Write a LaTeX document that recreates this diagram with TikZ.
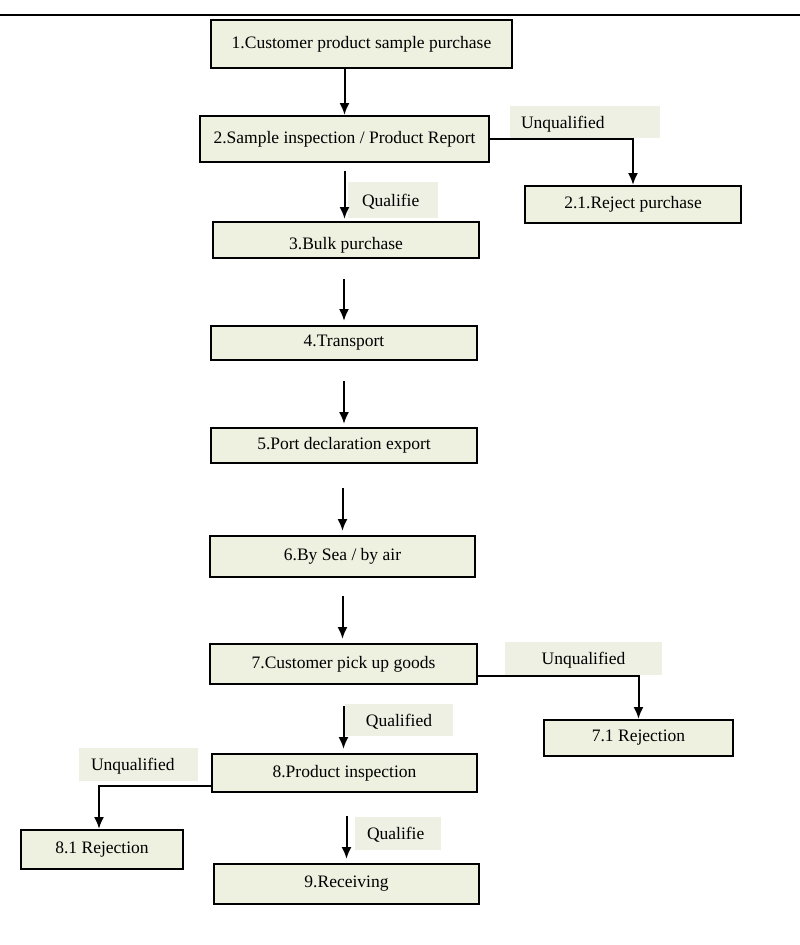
\documentclass[tikz,border=0pt]{standalone}
\usepackage{fontspec}
\setmainfont{Liberation Serif}
\usetikzlibrary{arrows.meta}
\definecolor{boxfill}{HTML}{EEF0E0}
\definecolor{lblfill}{HTML}{EFF0E4}
\tikzset{
  box/.style={draw=black, line width=2pt, fill=boxfill, inner sep=0pt, font=\fontsize{17.5}{20}\selectfont},
  lbl/.style={fill=lblfill, inner sep=0pt, text height=14pt, text depth=2pt, font=\fontsize{17.5}{20}\selectfont},
  arr/.style={line width=2pt, -{Latex[length=12pt,width=10pt]}},
}
\begin{document}
\begin{tikzpicture}[x=1pt,y=-1pt]
\useasboundingbox (0,0) rectangle (800,945);
\fill[white] (0,0) rectangle (800,945);
\draw[line width=1.5pt] (0,15) -- (800,15);

\node[box, minimum width=301pt, minimum height=48pt] (b1) at (361.5,44) {1.Customer product sample purchase};
\node[box, minimum width=289pt, minimum height=46pt] (b2) at (344.5,139) {2.Sample inspection / Product Report};
\node[box, minimum width=216pt, minimum height=37pt] (b21) at (633,204.5) {2.1.Reject purchase};
\node[box, minimum width=266pt, minimum height=36pt, text height=20pt, text depth=2pt] (b3) at (346,240) {3.Bulk purchase};
\node[box, minimum width=266pt, minimum height=34pt] (b4) at (344,343) {4.Transport};
\node[box, minimum width=266pt, minimum height=35pt] (b5) at (344,445.5) {5.Port declaration export};
\node[box, minimum width=265pt, minimum height=41pt] (b6) at (342.5,556.5) {6.By Sea / by air};
\node[box, minimum width=267pt, minimum height=40pt] (b7) at (343.5,664) {7.Customer pick up goods};
\node[box, minimum width=189pt, minimum height=36pt] (b71) at (638.5,738) {7.1 Rejection};
\node[box, minimum width=265pt, minimum height=38pt] (b8) at (344.5,773) {8.Product inspection};
\node[box, minimum width=162pt, minimum height=39pt] (b81) at (102,849.5) {8.1 Rejection};
\node[box, minimum width=265pt, minimum height=40pt] (b9) at (346.5,884) {9.Receiving};

\node[lbl, minimum height=32pt, text width=128pt, inner xsep=11pt, align=left] (l2u) at (585,122) {Unqualified};
\node[lbl, minimum height=36pt, text width=62pt, inner xsep=14pt, align=left] (l2q) at (393,200) {Qualifie};
\node[lbl, minimum width=157pt, minimum height=33pt] (l7u) at (583.5,658.5) {Unqualified};
\node[lbl, minimum width=108pt, minimum height=32pt] (l7q) at (399,720) {Qualified};
\node[lbl, minimum height=33pt, text width=95pt, inner xsep=12pt, align=left] (l8u) at (138.5,764.5) {Unqualified};
\node[lbl, minimum height=33pt, text width=62pt, inner xsep=12pt, align=left] (l9q) at (398,833.5) {Qualifie};

\draw[arr] (b2.north |- b1.south) -- (b2.north);
\draw[arr, shorten <=8pt, shorten >=2pt] (b2.south) -- (b2.south |- b3.north);
\draw[arr, shorten <=20pt, shorten >=4pt] (b4.north |- b3.south) -- (b4.north);
\draw[arr, shorten <=20pt, shorten >=3pt] (b4.south) -- (b4.south |- b5.north);
\draw[arr, shorten <=24pt, shorten >=4pt] (b6.north |- b5.south) -- (b6.north);
\draw[arr, shorten <=18pt, shorten >=4pt] (b6.south) -- (b6.south |- b7.north);
\draw[arr, shorten <=21pt, shorten >=4pt] (b7.south) -- (b7.south |- b8.north);
\draw[arr, shorten <=23pt, shorten >=4pt] (b9.north |- b8.south) -- (b9.north);

\draw[arr] (b2.east) -| (b21.north);
\draw[arr] ([yshift=-12pt]b7.east) -| (b71.north);
\draw[arr] ([yshift=-13pt]b8.west) -| ([xshift=-3pt]b81.north);
\end{tikzpicture}
\end{document}
